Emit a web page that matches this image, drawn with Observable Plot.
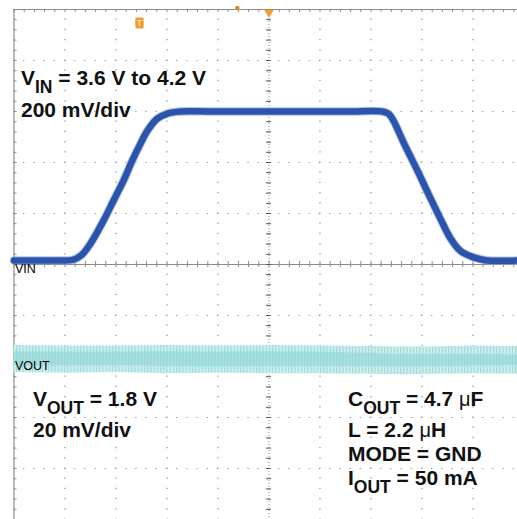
<!DOCTYPE html>
<html>
<head>
<meta charset="utf-8">
<script src="https://cdn.jsdelivr.net/npm/d3@7"></script>
<script src="https://cdn.jsdelivr.net/npm/@observablehq/plot@0.6"></script>
<style>
  html, body { margin: 0; padding: 0; background: #fff; overflow: hidden; }
  #chart svg { display: block; }
</style>
</head>
<body>
<div id="chart"></div>
<script>
// ---- Data (time and amplitude in scope divisions; centre of screen = 0,0) ----
// VIN trace (channel 1, 200 mV/div)
const vinT = [-5.0, -4.2, -3.85, -3.68, -3.5, -3.245, -3.05, -2.85, -2.68, -2.52, -2.38, -2.19, -1.99, -1.74, -1.2, 1.5, 2.22, 2.35, 2.44, 2.64, 2.93, 3.17, 3.36, 3.56, 3.75, 4.01, 4.28, 4.88];
const vinV = [0.08, 0.08, 0.09, 0.18, 0.41, 0.86, 1.25, 1.65, 2.04, 2.37, 2.63, 2.86, 2.96, 3.0, 3.0, 3.0, 3.0, 2.95, 2.82, 2.39, 1.80, 1.29, 0.90, 0.51, 0.27, 0.14, 0.08, 0.08];

// VOUT trace (channel 2, 20 mV/div): ripple band envelope
const voutT = [-5.0, -4.0, -3.0, -2.0, -1.0, 0.0, 1.0, 2.0, 2.6, 3.2, 4.0, 4.88];
const voutHi = [-1.59, -1.60, -1.60, -1.59, -1.60, -1.59, -1.60, -1.61, -1.62, -1.62, -1.60, -1.61];
const voutLo = [-2.12, -2.13, -2.12, -2.14, -2.13, -2.14, -2.14, -2.15, -2.16, -2.15, -2.14, -2.15];
const voutCoreHi = [-1.71, -1.72, -1.72, -1.71, -1.72, -1.71, -1.72, -1.74, -1.77, -1.77, -1.76, -1.78];
const voutCoreLo = [-1.98, -1.99, -1.98, -2.00, -2.01, -2.00, -2.00, -2.00, -2.01, -2.00, -1.99, -1.98];

// Channel ground markers
const chanLabels = ["VIN", "VOUT"];
const chanLabelY = [0.0, -1.90];

// Orange trigger / position markers on top edge
const trigX = [0];          // trigger position triangle
const tMarkX = [-2.54];     // "T" marker
const posMarkX = [-0.62];   // small position marker

// Annotation text lines
const annoX = [-4.853, -4.853, -4.618, -4.618, 1.559, 1.559, 1.559, 1.559];
const annoY = [3.51, 2.882, -2.784, -3.392, -2.784, -3.392, -3.863, -4.333];
const annoParts = [
  [["V",""],["IN","sub"],[" = 3.6 V to 4.2 V",""]],
  [["200 mV/div",""]],
  [["V",""],["OUT","sub"],[" = 1.8 V",""]],
  [["20 mV/div",""]],
  [["C",""],["OUT","sub"],[" = 4.7 ",""],["\u03bc","mu"],["F",""]],
  [["L = 2.2 ",""],["\u03bc","mu"],["H",""]],
  [["MODE = GND",""]],
  [["I",""],["OUT","sub"],[" = 50 mA",""]]
];

// Graticule
const majors = [-4, -3, -2, -1, 1, 2, 3, 4];
const minors = d3.range(-25, 26).map(k => k / 5);

const vin = vinT.map((t, i) => ({t, v: vinV[i]}));
const vout = voutT.map((t, i) => ({t, hi: voutHi[i], lo: voutLo[i], chi: voutCoreHi[i], clo: voutCoreLo[i]}));

const gridColor = "#8c8c8c";
const orange = "#f29a2e";

const chart = Plot.plot({
  width: 517,
  height: 519,
  marginLeft: 13.5,
  marginRight: 0,
  marginTop: 9,
  marginBottom: 0,
  x: {domain: [-5, 4.873], axis: null},
  y: {domain: [-5, 5], axis: null},
  style: {background: "#fff", overflow: "visible"},
  marks: [
    // dotted graticule
    Plot.ruleX(majors, {stroke: gridColor, strokeWidth: 1.2, strokeDasharray: "1.2 9", strokeDashoffset: 0.6}),
    Plot.ruleY(majors, {stroke: gridColor, strokeWidth: 1.2, strokeDasharray: "1.2 9", strokeDashoffset: 0.6}),
    // centre lines
    Plot.ruleX([0], {stroke: gridColor, strokeWidth: 1, strokeDasharray: "1 2"}),
    Plot.ruleY([0], {stroke: gridColor, strokeWidth: 1}),
    Plot.ruleX(minors, {x: d => d, y1: -0.06, y2: 0.06, stroke: gridColor}),
    Plot.ruleY(minors, {y: d => d, x1: -0.05, x2: 0.05, stroke: "#555"}),
    // frame (left, top) with ticks
    Plot.ruleX([-5], {stroke: gridColor, strokeWidth: 1.2}),
    Plot.ruleY([5], {stroke: gridColor, strokeWidth: 1.2}),
    Plot.ruleX(minors, {x: d => d, y1: 5, y2: 4.94, stroke: gridColor}),
    Plot.ruleY(minors, {y: d => d, x1: -5, x2: -4.94, stroke: gridColor}),
    // VOUT ripple band
    Plot.areaY(vout, {x: "t", y1: "lo", y2: "hi", fill: "#cdeeee", curve: "linear"}),
    Plot.areaY(vout, {x: "t", y1: "lo", y2: "hi", fill: "url(#ripple)", curve: "linear"}),
    Plot.areaY(vout, {x: "t", y1: "clo", y2: "chi", fill: "#8fd6d6", fillOpacity: 0.6, curve: "linear"}),
    // VIN trace
    Plot.line(vin, {x: "t", y: "v", stroke: "#7f9bd6", strokeWidth: 8.5, curve: "catmull-rom", strokeOpacity: 0.6}),
    Plot.line(vin, {x: "t", y: "v", stroke: "#2b55ab", strokeWidth: 6.5, curve: "catmull-rom"}),
    // channel labels
    Plot.text(chanLabels, {x: -5, y: (d, i) => chanLabelY[i], text: d => d, dx: 1, textAnchor: "start", lineAnchor: "top",
      fontFamily: "'Liberation Sans Narrow', 'Liberation Sans', Arial, sans-serif", fontSize: 12.5, fill: "#000"}),
    // top markers
    Plot.dot(trigX, {x: d => d, y: 5, symbol: "triangle", rotate: 180, r: 3.6, dy: 3, fill: orange}),
    Plot.dot(posMarkX, {x: d => d, y: 5, symbol: "square", r: 2.2, dy: -1.5, fill: "#d98a2a"}),
    Plot.dot(tMarkX, {x: d => d, y: 5, symbol: "square", r: 4.5, dy: 12, fill: orange}),
    Plot.dot(tMarkX, {x: d => d, y: 5, symbol: "square", r: 4.5, dy: 15, fill: orange}),
    Plot.text(tMarkX, {x: d => d, y: 5, text: () => "T", dy: 13.5, fill: "#ffe2b8", fontSize: 9, fontWeight: "bold",
      fontFamily: "'Liberation Sans', Arial, sans-serif"})
  ]
});

// ripple texture pattern
const defs = document.createElementNS("http://www.w3.org/2000/svg", "defs");
defs.innerHTML = '<pattern id="ripple" width="3.2" height="6" patternUnits="userSpaceOnUse">' +
  '<rect x="0" y="0" width="1.1" height="6" fill="#6fcaca" fill-opacity="0.55"/></pattern>';
chart.insertBefore(defs, chart.firstChild);

// annotations positioned through the chart's scales
const sx = chart.scale("x"), sy = chart.scale("y");
const NS = "http://www.w3.org/2000/svg";
annoParts.forEach((parts, i) => {
  const t = document.createElementNS(NS, "text");
  t.setAttribute("x", sx.apply(annoX[i]));
  t.setAttribute("y", sy.apply(annoY[i]));
  t.setAttribute("text-anchor", "start");
  t.setAttribute("font-family", "'Liberation Sans', Arial, sans-serif");
  t.setAttribute("font-size", "21");
  t.setAttribute("font-weight", "bold");
  t.setAttribute("fill", "#111");
  let shifted = false;
  parts.forEach(([s, kind]) => {
    const sp = document.createElementNS(NS, "tspan");
    sp.textContent = s;
    if (kind === "sub") {
      sp.setAttribute("font-size", "17.5");
      sp.setAttribute("dy", "8");
      shifted = true;
    } else {
      if (shifted) { sp.setAttribute("dy", "-8"); shifted = false; }
      if (kind === "mu") { sp.setAttribute("font-weight", "normal"); sp.setAttribute("font-size", "20"); }
    }
    t.appendChild(sp);
  });
  chart.appendChild(t);
});

document.getElementById("chart").appendChild(chart);
</script>
</body>
</html>
